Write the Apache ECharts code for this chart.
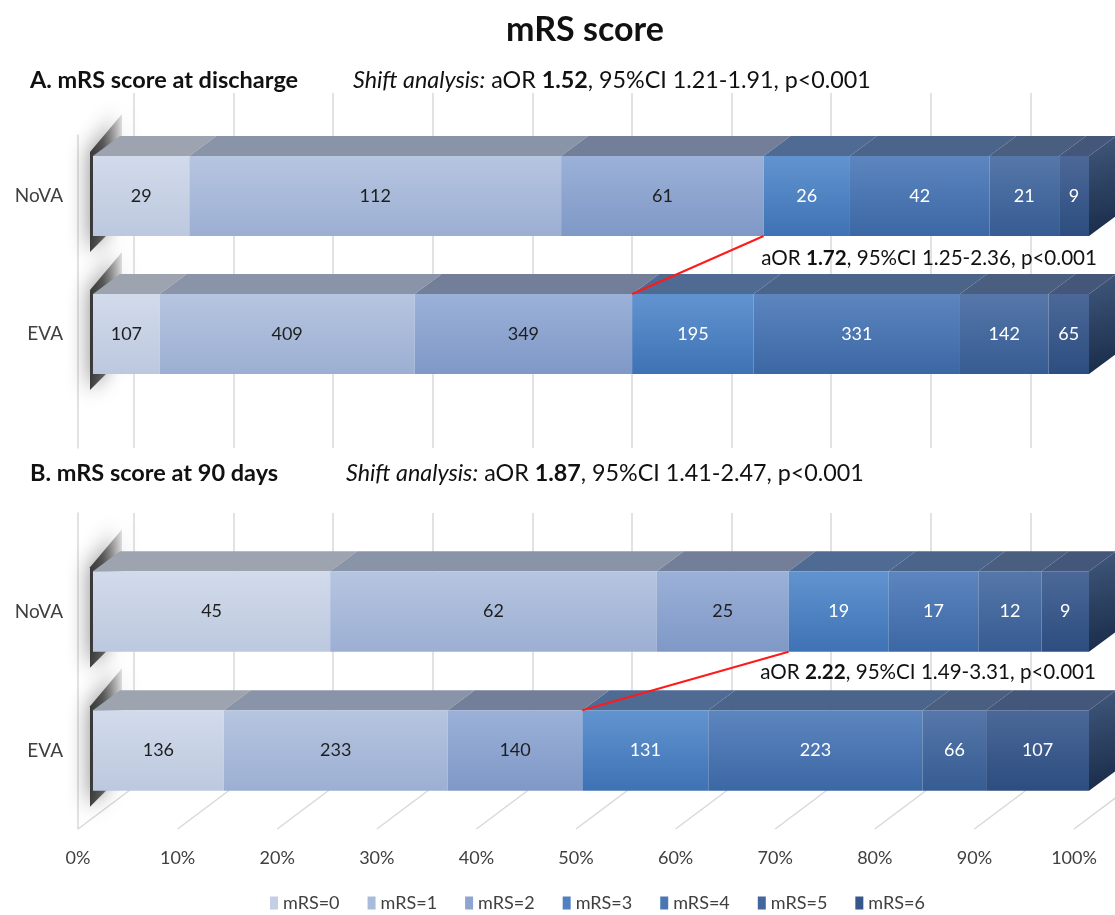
<!DOCTYPE html>
<html>
<head>
<meta charset="utf-8">
<script src="https://cdn.jsdelivr.net/npm/echarts@6/dist/echarts.min.js"></script>
<style>
  html, body { margin: 0; padding: 0; background: #ffffff; }
  #chart { width: 1115px; height: 915px; }
</style>
</head>
<body>
<div id="chart"></div>
<script>
// ---- data ----
const groups = ['NoVA', 'EVA'];
const levels = ['mRS=0', 'mRS=1', 'mRS=2', 'mRS=3', 'mRS=4', 'mRS=5', 'mRS=6'];
const dischargeNoVA = [29, 112, 61, 26, 42, 21, 9];
const dischargeEVA = [107, 409, 349, 195, 331, 142, 65];
const day90NoVA = [45, 62, 25, 19, 17, 12, 9];
const day90EVA = [136, 233, 140, 131, 223, 66, 107];
const percentTicks = [0, 10, 20, 30, 40, 50, 60, 70, 80, 90, 100];
const splitLevel = 3; // good outcome (mRS 0-2) vs the rest

// ---- styling ----
const FONT = 'Lato, "Open Sans", "Noto Sans", sans-serif';
const DX = 27, DY = 20;           // bar depth in pixels
const BAR_RATIO = 0.58;
const frontTop = ['#d2dbeb', '#b6c5e0', '#9bb1d8', '#6194cf', '#5d86bf', '#5677a9', '#4b6898'];
const frontBot = ['#bcc8de', '#9cafd3', '#7f98c6', '#3f72b5', '#3b67a4', '#365c93', '#2d4d80'];
const topFace = ['#9da4b0', '#8a94a8', '#737f99', '#4f6b94', '#4b648a', '#4a5e80', '#44577a'];
const legendColor = ['#c3cfe5', '#a9bbdb', '#8ea5d0', '#4f81c2', '#4a76b2', '#42679c', '#36578a'];

function cumulative(counts) {
  const total = counts.reduce((a, b) => a + b, 0);
  const out = [];
  let acc = 0;
  counts.forEach(c => { const s = acc; acc += c; out.push([s / total * 100, acc / total * 100]); });
  return out;
}

function segmentData(noVA, eva, k) {
  const a = cumulative(noVA)[k], b = cumulative(eva)[k];
  return [
    [a[0], a[1], 0, noVA[k], k],
    [b[0], b[1], 1, eva[k], k]
  ];
}

function renderSegment(params, api) {
  const s = api.value(0), e = api.value(1), g = api.value(2), n = api.value(3), k = api.value(4);
  const p0 = api.coord([s, g]);
  const p1 = api.coord([e, g]);
  const h = api.size([0, 1])[1] * BAR_RATIO;
  const x0 = p0[0], x1 = p1[0];
  const yT = p0[1] - h / 2, yB = p0[1] + h / 2;
  const children = [];
  if (k === 0) {
    // soft shadow cast on the left wall
    children.push({
      type: 'polygon',
      shape: { points: [[x0 - 3, yT - 4], [x0 + DX + 2, yT - DY - 22], [x0 + DX + 2, yB - DY + 4], [x0 - 3, yB + 16]] },
      style: {
        fill: new echarts.graphic.LinearGradient(1, 0, 0, 0, [
          { offset: 0, color: 'rgba(60,60,60,0.15)' }, { offset: 0.6, color: 'rgba(40,40,40,0.7)' }, { offset: 1, color: 'rgba(30,30,30,0.85)' }
        ]),
        shadowBlur: 22, shadowColor: 'rgba(0,0,0,0.55)'
      }
    });
  }
  children.push({
    type: 'polygon',
    shape: { points: [[x0, yT], [x1, yT], [x1 + DX, yT - DY], [x0 + DX, yT - DY]] },
    style: { fill: topFace[k] }
  });
  children.push({
    type: 'rect',
    shape: { x: x0, y: yT, width: x1 - x0, height: h },
    style: {
      fill: new echarts.graphic.LinearGradient(0, 0, 0, 1, [
        { offset: 0, color: frontTop[k] }, { offset: 1, color: frontBot[k] }
      ])
    }
  });
  if (k === levels.length - 1) {
    children.push({
      type: 'polygon',
      shape: { points: [[x1, yT], [x1 + DX, yT - DY], [x1 + DX, yB - DY], [x1, yB]] },
      style: {
        fill: new echarts.graphic.LinearGradient(0, 0, 1, 1, [
          { offset: 0, color: '#41597d' }, { offset: 1, color: '#182a47' }
        ])
      }
    });
  }
  children.push({
    type: 'text',
    style: {
      text: String(n), x: (x0 + x1) / 2, y: p0[1],
      align: 'center', verticalAlign: 'middle',
      fill: k < splitLevel ? '#1e1e1e' : '#ffffff',
      fontSize: 18, fontFamily: FONT
    }
  });
  return { type: 'group', children };
}

function renderShiftLine(params, api) {
  const a = api.coord([api.value(0), 0]);
  const b = api.coord([api.value(1), 1]);
  const h = api.size([0, 1])[1] * BAR_RATIO;
  return {
    type: 'line',
    shape: { x1: a[0], y1: a[1] + h / 2, x2: b[0], y2: b[1] - h / 2 },
    style: { stroke: '#ff1a1a', lineWidth: 2 }
  };
}

function renderFloorLine(params, api) {
  const p = api.coord([api.value(0), 0]);
  return {
    type: 'line',
    shape: { x1: p[0], y1: p[1], x2: p[0] + 56, y2: p[1] - 42 },
    style: { stroke: '#d9d9d9', lineWidth: 1.5 }
  };
}

// ---- grids ----
const grids = [
  { left: 134, width: 996, top: 93, height: 355 },   // 0 wall A
  { left: 78, width: 996, top: 135, height: 313 },   // 1 front/left wall A
  { left: 93, width: 996, top: 127, height: 276 },   // 2 bars A
  { left: 134, width: 996, top: 513, height: 274 },  // 3 wall B
  { left: 78, width: 996, top: 513, height: 316 },   // 4 floor B
  { left: 93, width: 996, top: 542, height: 278 }    // 5 bars B
].map(g => Object.assign({ outerBoundsMode: 'none', containLabel: false }, g));

const wallX = i => ({
  gridIndex: i, type: 'value', min: 0, max: 100, interval: 10,
  axisLine: { show: false }, axisTick: { show: false }, axisLabel: { show: false },
  splitLine: { show: true, showMinLine: true, showMaxLine: true, lineStyle: { color: '#d9d9d9', width: 1.5 } }
});
const hiddenX = i => ({
  gridIndex: i, type: 'value', min: 0, max: 100, show: false
});
const floorX = i => ({
  gridIndex: i, type: 'value', min: 0, max: 100, interval: 10,
  axisLine: { show: false }, axisTick: { show: false }, splitLine: { show: false },
  axisLabel: { show: true, formatter: '{value}%', margin: 20, color: '#404040', fontSize: 18, fontFamily: FONT }
});
const plainY = i => ({ gridIndex: i, type: 'value', min: 0, max: 1, show: false });
const leftWallY = i => ({
  gridIndex: i, type: 'value', min: 0, max: 1,
  axisLine: { show: true, lineStyle: { color: '#d9d9d9', width: 1.5 } },
  axisTick: { show: false }, axisLabel: { show: false }, splitLine: { show: false }
});
const categoryY = i => ({
  gridIndex: i, type: 'category', data: groups, inverse: true,
  axisLine: { show: false }, axisTick: { show: false }, splitLine: { show: false },
  axisLabel: { margin: 30, color: '#404040', fontSize: 19, fontFamily: FONT, padding: [28, 0, 0, 0] }
});

const xAxis = [wallX(0), hiddenX(1), hiddenX(2), wallX(3), floorX(4), hiddenX(5)];
const yAxis = [plainY(0), leftWallY(1), categoryY(2), plainY(3), leftWallY(4), categoryY(5)];

const series = [];
[[dischargeNoVA, dischargeEVA, 2], [day90NoVA, day90EVA, 5]].forEach(([noVA, eva, gi]) => {
  levels.forEach((name, k) => {
    series.push({
      type: 'custom', name, xAxisIndex: gi, yAxisIndex: gi, z: 3,
      itemStyle: { color: legendColor[k] },
      renderItem: renderSegment,
      data: segmentData(noVA, eva, k),
      silent: true
    });
  });
  series.push({
    type: 'custom', name: 'shift', xAxisIndex: gi, yAxisIndex: gi, z: 10,
    renderItem: renderShiftLine, silent: true,
    data: [[cumulative(noVA)[splitLevel][0], cumulative(eva)[splitLevel][0]]]
  });
});
series.push({
  type: 'custom', name: 'floor', xAxisIndex: 4, yAxisIndex: 4, z: 1,
  renderItem: renderFloorLine, silent: true,
  data: percentTicks.map(p => [p])
});

function richStyles(size) {
  return {
    n: { fontFamily: FONT, fontSize: size, fill: '#111111' },
    i: { fontFamily: FONT, fontSize: size, fill: '#111111', fontStyle: 'italic' },
    b: { fontFamily: FONT, fontSize: size, fill: '#111111', fontWeight: 'bold' }
  };
}
function richText(x, y, text, size, align) {
  return {
    type: 'text', x, y, z: 20,
    style: { text, rich: richStyles(size), align: align || 'left', verticalAlign: 'middle',
      fontFamily: FONT, fontSize: size, fill: '#111111' }
  };
}
function heading(x, y, text) {
  return {
    type: 'text', x, y, z: 20,
    style: { text, fontFamily: FONT, fontSize: 23.5, fontWeight: 'bold', fill: '#111111', verticalAlign: 'middle' }
  };
}

const option = {
  animation: false,
  backgroundColor: '#ffffff',
  grid: grids,
  xAxis, yAxis,
  legend: {
    data: levels, left: 265, top: 889, icon: 'rect',
    itemWidth: 8, itemHeight: 13, itemGap: 28,
    textStyle: { color: '#404040', fontSize: 18, fontFamily: FONT },
    selectedMode: false
  },
  graphic: [
    { type: 'text', x: 585, y: 30, z: 20,
      style: { text: 'mRS score', fontFamily: FONT, fontSize: 34, fontWeight: 'bold', fill: '#111111', align: 'center', verticalAlign: 'middle' } },
    heading(30, 80, 'A. mRS score at discharge'),
    richText(353, 80, '{i|Shift analysis:}{n| aOR }{b|1.52}{n|, 95%CI 1.21-1.91, p<0.001}', 23.3),
    richText(1097, 258, '{n|aOR }{b|1.72}{n|, 95%CI 1.25-2.36, p<0.001}', 20.6, 'right'),
    heading(30, 473, 'B. mRS score at 90 days'),
    richText(346, 473, '{i|Shift analysis:}{n| aOR }{b|1.87}{n|, 95%CI 1.41-2.47, p<0.001}', 23.3),
    richText(1096, 672, '{n|aOR }{b|2.22}{n|, 95%CI 1.49-3.31, p<0.001}', 20.6, 'right')
  ],
  series
};

const chart = echarts.init(document.getElementById('chart'), null, { renderer: 'canvas' });
chart.setOption(option);
</script>
</body>
</html>
